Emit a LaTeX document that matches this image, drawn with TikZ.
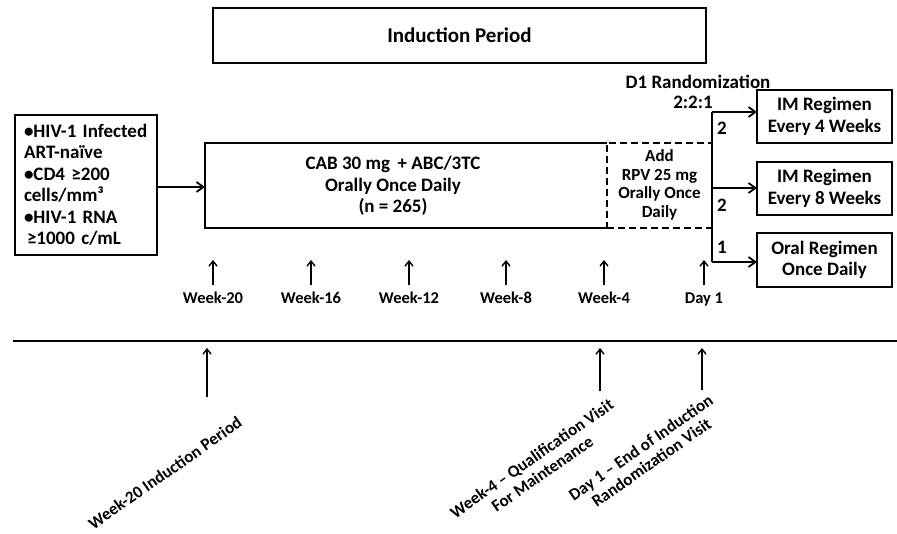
\documentclass[tikz,border=0pt]{standalone}
\usepackage{fontspec}
\setmainfont{Carlito}
\usetikzlibrary{arrows.meta}
\begin{document}
\begin{tikzpicture}[x=1pt,y=-1pt,
  font=\bfseries,
  frame/.style={draw, line width=2.4pt, inner sep=0pt, outer sep=0pt},
  bigtxt/.style={font=\bfseries\fontsize{19}{21.5}\selectfont},
  smalltxt/.style={font=\bfseries\fontsize{17}{18.5}\selectfont},
  arr/.style={-{Straight Barb[length=7pt,width=10pt]}, line width=1.8pt},
  tick/.style={-{Straight Barb[length=5pt,width=8pt]}, line width=1.4pt},
  plain/.style={line width=2pt}]
\useasboundingbox (0,0) rectangle (897,533);

% top box
\node[frame, minimum width=493pt, minimum height=55pt, font=\bfseries\fontsize{21}{24}\selectfont] (ind) at (459.5,35.5) {Induction Period};

% eligibility box
\node[frame, bigtxt, minimum width=142pt, minimum height=140pt, text width=124pt, align=left] (crit) at (86,185)
  {•HIV-1 Infected\\ART-naïve\\•CD4 ≥200\\cells/mm³\\•HIV-1 RNA\\\hspace*{3pt}≥1000 c/mL};

% main box frame
\coordinate (cnw) at (205,143);
\coordinate (cne) at (607,143);
\coordinate (csw) at (205,228);
\coordinate (cse) at (607,228);
\coordinate (cabw) at (205,187);
\draw[line width=2.4pt] (cne) -- (cnw) -- (csw) -- (cse);
\node[bigtxt, align=center] (cab) at (393,186) {CAB 30 mg\, + ABC/3TC\\Orally Once Daily\\(n = 265)};
\node[frame, dashed, dash pattern=on 7pt off 4pt, minimum width=105pt, minimum height=85pt, smalltxt, align=center] (rpv) at (659.5,185.5)
  {\raisebox{4pt}{Add}\\\raisebox{4pt}{RPV 25 mg}\\\raisebox{4pt}{Orally Once}\\\raisebox{4pt}{Daily}};

\draw[arr] (crit.east |- cabw) -- (cabw);

% randomization
\node[bigtxt] (rand) at (698,82) {D1 Randomization};
\node[bigtxt] (ratio) at (693,102) {2:2:1};
\node[frame, bigtxt, minimum width=135pt, minimum height=53pt, align=center] (r1) at (824.5,116.5) {IM Regimen\\Every 4 Weeks};
\node[frame, bigtxt, minimum width=135pt, minimum height=53pt, align=center] (r2) at (824.5,188.5) {IM Regimen\\Every 8 Weeks};
\node[frame, bigtxt, minimum width=135pt, minimum height=54pt, align=center] (r3) at (824.5,260) {Oral Regimen\\Once Daily};
\coordinate (s1) at (712,112);
\coordinate (s2) at (712,188);
\coordinate (s3) at (712,262);
\draw[plain] (s1) -- (s3);
\draw[arr] (s1) -- (s1 -| r1.west);
\draw[arr] (s2) -- (s2 -| r2.west);
\draw[arr] (s3) -- (s3 -| r3.west);
\node[bigtxt] (n1) at (722,128) {2};
\node[bigtxt] (n2) at (722,205) {2};
\node[bigtxt] (n3) at (722,247) {1};

% week ticks
\foreach \x/\t/\n in {213/Week-20/w20, 311/Week-16/w16, 409/Week-12/w12, 506/Week-8/w8, 604/Week-4/w4, 704/Day 1/d1}{
  \node[font=\bfseries\fontsize{16.5}{18}\selectfont, anchor=base] (\n) at (\x,303) {\t};
  \coordinate (\n top) at (\x,260);
  \draw[tick] (\x,285) -- (\n top);
}

% timeline
\coordinate (hl) at (13,341);
\coordinate (hr) at (897,341);
\draw[plain] (hl) -- (hr);

\node[smalltxt, rotate=35, align=center] (lw20) at (165,473) {Week-20 Induction Period};
\node[smalltxt, rotate=35, align=center] (lw4) at (537,466) {Week-4 – Qualification Visit\\For Maintenance};
\node[smalltxt, rotate=35, align=center] (ld1) at (646,455) {Day 1 – End of Induction\\Randomization Visit};
\coordinate (a20) at (207,348);
\coordinate (a4) at (600,348);
\coordinate (a1) at (702,348);
\draw[tick] (207,397) -- (a20);
\draw[tick] (600,391) -- (a4);
\draw[tick] (702,390) -- (a1);
\end{tikzpicture}
\end{document}
